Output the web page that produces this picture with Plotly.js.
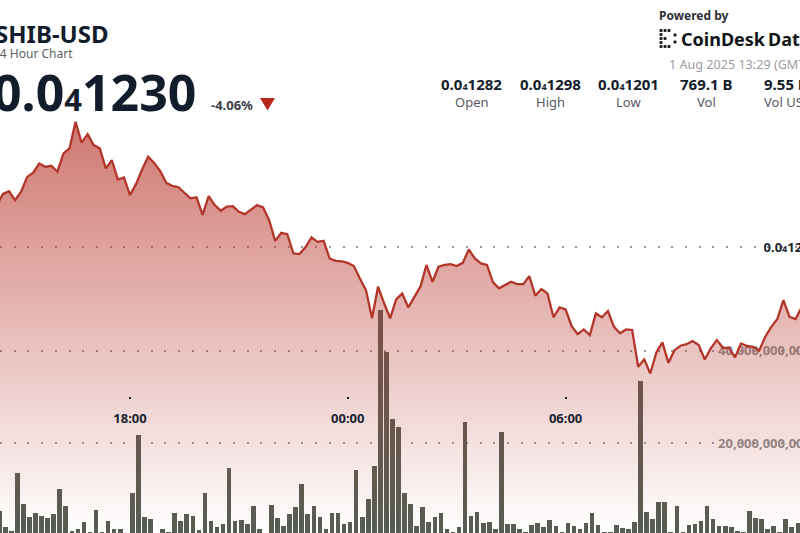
<!DOCTYPE html>
<html><head><meta charset="utf-8">
<script src="https://cdn.plot.ly/plotly-3.0.1.min.js"></script>
<style>html,body{margin:0;padding:0;overflow:hidden;background:#fff;width:800px;height:533px}#chart{width:820px;height:533px}</style>
</head><body><div id="chart"></div>
<script>
// ---------- data ----------
const symbol = 'SHIB-USD';
const subtitle = '24 Hour Chart';
const lastPrice = '0.0₄1230';
const changePct = '-4.06%';
const stamp = '1 Aug 2025 13:29 (GMT)';
const brand = 'CoinDesk\u2009Data';
const statLabels = ['Open', 'High', 'Low', 'Vol', 'Vol USD'];
const statValues = ['0.0₄1282', '0.0₄1298', '0.0₄1201', '769.1 B', '9.55 M'];

// 10-minute series, first slot 2025-07-31 14:20 (UTC)
const seriesStart = '2025-07-31 14:20';
const stepMinutes = 10;

// price (USD x 1e-8), one value per 10-min slot
const priceE8 = [
 1266.3, 1270.5, 1271.6, 1268.1, 1271.4, 1277.1, 1278.7, 1282.3, 1281.0, 1281.4,
 1279.1, 1286.2, 1288.1, 1298.4, 1290.3, 1293.6, 1289.4, 1288.1, 1280.4, 1283.6,
 1276.1, 1276.9, 1270.1, 1274.3, 1280.0, 1284.9, 1282.5, 1279.3, 1274.8, 1273.6,
 1273.1, 1271.0, 1268.8, 1269.2,
 1262.4, 1269.7, 1266.2, 1264.0, 1265.6, 1265.8, 1263.6, 1262.7, 1264.3, 1266.2,
 1265.3, 1260.4, 1252.4, 1255.5, 1255.0, 1247.6, 1247.3, 1249.9, 1253.7, 1252.0,
 1252.4, 1245.6, 1244.7, 1244.5, 1243.9, 1242.7, 1237.9, 1233.4, 1222.5, 1234.7,
 1228.3, 1222.5, 1229.8,
 1232.1, 1226.7, 1230.8, 1234.7, 1243.1, 1236.6, 1242.4, 1243.1, 1243.4, 1242.7,
 1243.9, 1249.1, 1245.6, 1243.7, 1243.1, 1236.4, 1234.1, 1235.3, 1236.6, 1235.7,
 1235.7, 1238.8, 1231.2, 1233.8, 1232.1, 1222.9, 1226.7, 1225.9, 1219.5, 1216.4,
 1218.2, 1216.0, 1224.4,
 1222.9, 1225.3, 1219.2, 1216.7, 1218.2, 1218.0, 1203.8, 1206.6, 1201.2, 1209.3,
 1213.2, 1205.3, 1210.2, 1211.9, 1212.5, 1213.7, 1212.2, 1206.6, 1210.9, 1214.1,
 1211.1, 1211.1, 1207.4, 1212.8, 1211.8, 1211.5, 1210.0, 1215.4, 1219.2, 1222.2,
 1229.5, 1223.1, 1222.2, 1226.7
];

// volume (billions of SHIB), one bar per 10-min slot
const volumeB = [
 5.4, 2.0, 1.1, 13.5, 7.0, 4.0, 4.9, 4.2, 3.8, 4.7,
 10.2, 6.5, 1.1, 1.5, 2.9, 0.9, 5.6, 0.9, 3.2, 1.4,
 1.6, 0.4, 9.3, 21.9, 4.0, 3.7, 0.4, 1.4, 0.9, 4.9,
 3.3, 4.7, 4.2, 1.3,
 9.3, 3.3, 2.0, 2.6, 14.7, 3.2, 3.4, 2.5, 6.5, 1.4,
 0.4, 6.7, 3.8, 2.2, 4.7, 6.3, 11.2, 4.8, 6.5, 4.1,
 1.6, 4.9, 4.9, 2.6, 2.9, 14.2, 4.1, 8.0, 15.1, 48.8,
 39.7, 25.2, 23.6,
 9.2, 7.0, 2.1, 6.2, 3.1, 4.0, 5.0, 1.4, 0.9, 2.0,
 24.5, 4.2, 5.2, 2.7, 3.1, 1.5, 22.4, 2.6, 2.6, 1.6,
 0.9, 2.4, 2.7, 2.0, 3.4, 2.1, 0.9, 2.7, 2.2, 1.4,
 2.7, 4.9, 2.4,
 0.9, 0.9, 2.3, 1.8, 1.4, 2.9, 33.5, 5.1, 3.6, 7.3,
 7.3, 0.9, 6.5, 0.9, 2.4, 2.5, 3.3, 6.5, 3.6, 2.2,
 2.2, 1.9, 1.1, 0.9, 5.4, 3.9, 3.7, 1.4, 2.2, 0.9,
 3.6, 1.9, 2.7, 8.6
];

const timeTickVals = ['2025-07-31 18:00', '2025-08-01 00:00', '2025-08-01 06:00', '2025-08-01 12:00'];
const timeTickText = ['18:00', '00:00', '06:00', '12:00'];
const priceTickValsE8 = [1250];
const priceTickText = ['0.0₄1250'];
const volumeTickVals = [20e9, 40e9];
const volumeTickText = ['20,000,000,000', '40,000,000,000'];

// ---------- helpers ----------
const W = 820, H = 533;
const PX = x => x / W;
const PY = y => 1 - y / H;
const sub = (s, size) => s.replace('₄', '<span style="font-size:' + size + 'px">4</span>');
const startMs = Date.parse(seriesStart.replace(' ', 'T') + ':00Z');
const slot = i => startMs + i * stepMinutes * 60000;

const priceX = priceE8.map((_, i) => slot(i));
const priceY = priceE8.map(v => v * 1e-8);
const volX = volumeB.map((_, i) => slot(i));
const volY = volumeB.map(v => v * 1e9);

const ink = '#121c2b';
const gridStyle = {showgrid: true, gridcolor: 'rgba(110,110,110,0.7)', gridwidth: 2, griddash: '2px,11.7px'};

const traces = [
  {type: 'bar', x: volX, y: volY, xaxis: 'x', yaxis: 'y',
   marker: {color: '#565d53'}, width: 7.6 * 60000, offset: 0, hoverinfo: 'skip'},
  {type: 'scatter', mode: 'lines', x: priceX, y: priceY, xaxis: 'x', yaxis: 'y2',
   line: {color: '#b2362a', width: 2.3}, fill: 'tozeroy',
   fillgradient: {type: 'vertical', start: 1139.6e-8, stop: 1300e-8,
     colorscale: [[0, 'rgba(186,60,50,0)'], [1, 'rgba(186,60,50,0.7)']]},
   hoverinfo: 'skip'}
];

const ann = (text, x, y, size, color, opts) => Object.assign({
  text, x: PX(x), y: PY(y), xref: 'paper', yref: 'paper', showarrow: false,
  xanchor: 'left', yanchor: 'middle', borderpad: 0,
  font: {family: 'Noto Sans', size, color}
}, opts || {});

const annotations = [
  ann(symbol, -6, 33.5, 24, ink, {font: {family: 'Noto Sans', size: 24, color: ink, weight: 'bold'}}),
  ann(subtitle, -8, 54, 12, '#5b5f66'),
  ann(sub(lastPrice, 31), -8, 92, 50, ink, {font: {family: 'Noto Sans', size: 50, color: ink, weight: 'bold'}}),
  ann(changePct, 210, 105, 13, '#3b4048', {font: {family: 'Noto Sans', size: 13, color: '#3b4048', weight: 'bold'}}),
  ann('Powered by', 658, 15, 12, '#2b2f36', {font: {family: 'Noto Sans', size: 12, color: '#2b2f36', weight: 'bold'}}),
  ann(brand, 680, 38.5, 18, '#111418', {font: {family: 'Noto Sans', size: 18, color: '#111418', weight: 'bold'}}),
  ann(stamp, 668, 64.5, 12.6, '#9a9da2')
];
const statCenters = [472, 550, 628, 706, 788];
statValues.forEach((v, i) => {
  annotations.push(ann(sub(v, 9), statCenters[i], 84, 15, ink,
    {xanchor: 'center', font: {family: 'Noto Sans', size: 15, color: ink, weight: 'bold'}}));
  annotations.push(ann(statLabels[i], statCenters[i], 102.5, 13, '#55595f', {xanchor: 'center'}));
});

const shapes = [
  {type: 'path', xref: 'paper', yref: 'paper', line: {width: 0}, fillcolor: '#b8261c',
   path: 'M ' + PX(260) + ' ' + PY(98) + ' L ' + PX(275) + ' ' + PY(98) + ' L ' + PX(267.5) + ' ' + PY(110.5) + ' Z'}
];
// logo mark (dot grid)
const dots = [[661,30.5],[661,34.5],[661,38.5],[661,42.5],[661,46.5],[665,30.5],[669,30.5],[665,46.5],[669,46.5],[665,38.5],[675,35],[675,42]];
dots.forEach(([x, y]) => shapes.push({type: 'rect', xref: 'paper', yref: 'paper', line: {width: 0}, fillcolor: '#111418',
  x0: PX(x - 1.4), x1: PX(x + 1.4), y0: PY(y - 1.4), y1: PY(y + 1.4)}));

const layout = {
  width: W, height: H, margin: {l: 0, r: 0, t: 0, b: 0, pad: 0},
  paper_bgcolor: '#ffffff', plot_bgcolor: '#ffffff',
  showlegend: false, hovermode: false, bargap: 0,
  font: {family: 'Noto Sans, sans-serif'},
  xaxis: {type: 'date', range: ['2025-07-31 14:25:07', '2025-08-01 13:00:30'],
    anchor: 'free', position: 1 - 396 / H, domain: [0, 1],
    showgrid: false, zeroline: false, showline: false,
    tickmode: 'array', tickvals: timeTickVals, ticktext: timeTickText,
    ticks: 'outside', ticklen: 2, tickwidth: 2, tickcolor: '#1b2533', ticklabelstandoff: 8,
    tickfont: {family: 'Noto Sans', size: 13, color: '#1b2533', weight: 'bold'}},
  yaxis: Object.assign({range: [0.63e9, 115.75e9], side: 'right', ticklabelposition: 'inside',
    tickmode: 'array', tickvals: volumeTickVals, ticktext: volumeTickText,
    zeroline: false, showline: false, ticks: '', layer: 'below traces', ticklabelstandoff: 6,
    tickfont: {family: 'Noto Sans', size: 13, color: '#8d8f92', weight: 'bold'}}, gridStyle),
  yaxis2: Object.assign({overlaying: 'y', anchor: 'x', side: 'right', ticklabelposition: 'inside',
    range: [1139.6e-8, 1345.4e-8],
    tickmode: 'array', tickvals: priceTickValsE8.map(v => v * 1e-8), ticktext: priceTickText.map(t => sub(t, 9)),
    zeroline: false, showline: false, ticks: '',
    tickfont: {family: 'Noto Sans', size: 13, color: '#1b2533', weight: 'bold'}}, gridStyle),
  annotations, shapes
};

Plotly.newPlot('chart', traces, layout, {staticPlot: true, displayModeBar: false});
</script>
</body></html>
